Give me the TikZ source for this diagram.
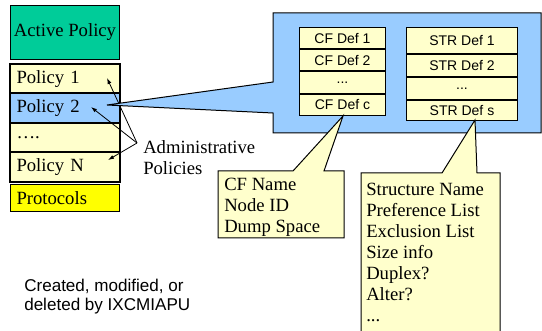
\documentclass[tikz,border=0pt]{standalone}
\usepackage{fontspec}
\setmainfont{Liberation Serif}
\setsansfont{Liberation Sans}
\usetikzlibrary{arrows.meta}
\definecolor{activegreen}{RGB}{0,204,153}
\definecolor{paleyellow}{RGB}{255,255,204}
\definecolor{skyblue}{RGB}{153,204,255}
\definecolor{protoyellow}{RGB}{255,255,0}
\newcommand{\bigserif}{\fontsize{14pt}{15.75pt}\selectfont}
\newcommand{\smallsans}{\sffamily\fontsize{10.5pt}{12pt}\selectfont}
\newcommand{\notesans}{\sffamily\fontsize{12.8pt}{14.25pt}\selectfont}
\tikzset{
  polrow/.style={draw, line width=0.75pt, anchor=north west, inner sep=0pt,
     minimum width=109*0.75pt, minimum height=28.5*0.75pt,
     text width=97*0.75pt, align=left, font=\bigserif},
  defrow/.style args={#1,#2}{draw, line width=0.75pt, fill=paleyellow, anchor=north west,
     inner sep=0pt, minimum width=#1*0.75pt, minimum height=#2*0.75pt, font=\smallsans},
  calltext/.style={anchor=north west, inner sep=0pt, align=left, font=\bigserif},
  admarrow/.style={-{Latex[length=4.5pt,width=3pt]}, line width=0.6pt}
}
\begin{document}
\begin{tikzpicture}[x=0.75pt,y=-0.75pt]
  \useasboundingbox (0,0) rectangle (542,331);
  \clip (0,0) rectangle (542,331);

  % left column
  \node[draw, line width=0.75pt, fill=activegreen, anchor=north west, inner sep=0pt,
        minimum width=109*0.75pt, minimum height=54*0.75pt, font=\bigserif] (active) at (10,5) {Active Policy};
  \node[polrow, fill=paleyellow] (pol1) at (10,64) {Policy 1};
  \node[polrow, fill=skyblue] (pol2) at (pol1.south west) {Policy 2};
  \node[polrow, fill=paleyellow] (poldots) at (pol2.south west) {\dots.};
  \node[polrow, fill=paleyellow] (poln) at (poldots.south west) {Policy N};
  \draw[line width=1.2pt] (pol1.north west) rectangle (poln.south east);
  \node[polrow, fill=protoyellow, minimum height=27*0.75pt] (proto) at (10,184) {Protocols};

  % administrative policies
  \coordinate (adm) at (137,143);
  \coordinate (tip1) at (107,78);
  \coordinate (tip2) at (91,107);
  \coordinate (tipn) at (108,160);
  \node[calltext] (admtxt) at (143,140) {Administrative\\Policies};
  \draw[admarrow] (adm) -- (tip1);
  \draw[admarrow] (adm) -- (tip2);
  \draw[admarrow] (adm) -- (tipn);

  % policy 2 callout
  \coordinate (poltip) at (107,105);
  \draw[line width=0.75pt, fill=skyblue] (273,13) -- (541,13) -- (541,133) -- (273,133)
     -- (273,113) -- (poltip) -- (273,82) -- cycle;

  % CF definitions
  \node[defrow={86,21.25}] (cf1) at (299,27) {CF Def 1};
  \node[defrow={86,21.25}] (cf2) at (cf1.south west) {CF Def 2};
  \node[defrow={86,21.25}] (cfdots) at (cf2.south west) {...};
  \node[defrow={86,21.25}] (cfc) at (cfdots.south west) {CF Def c};

  % STR definitions
  \node[defrow={111,26}] (str1) at (406,27) {STR Def 1};
  \node[defrow={111,22}] (str2) at (str1.south west) {STR Def 2};
  \node[defrow={111,22}] (strdots) at (str2.south west) {...};
  \node[defrow={111,20}] (strs) at (strdots.south west) {STR Def s};

  % CF callout
  \coordinate (cftip) at (343,116);
  \draw[line width=0.75pt, fill=paleyellow] (218,171) -- (293,171) -- (cftip) -- (324,171)
     -- (344,171) -- (344,238) -- (218,238) -- cycle;
  \node[calltext] (cftxt) at (224,178) {CF Name\\Node ID\\Dump Space};

  % STR callout
  \coordinate (strtip) at (475,120);
  \draw[line width=0.75pt, fill=paleyellow] (361,173) -- (442,173) -- (strtip) -- (477,173)
     -- (500,173) -- (500,345) -- (361,345) -- cycle;
  \node[calltext] (strtxt) at (366,183) {Structure Name\\Preference List\\Exclusion List\\Size info\\Duplex?\\Alter?\\...};

  % note
  \node[anchor=north west, inner sep=0pt, align=left, font=\notesans] (note) at (24,279)
     {Created, modified, or\\deleted by IXCMIAPU};
\end{tikzpicture}
\end{document}
